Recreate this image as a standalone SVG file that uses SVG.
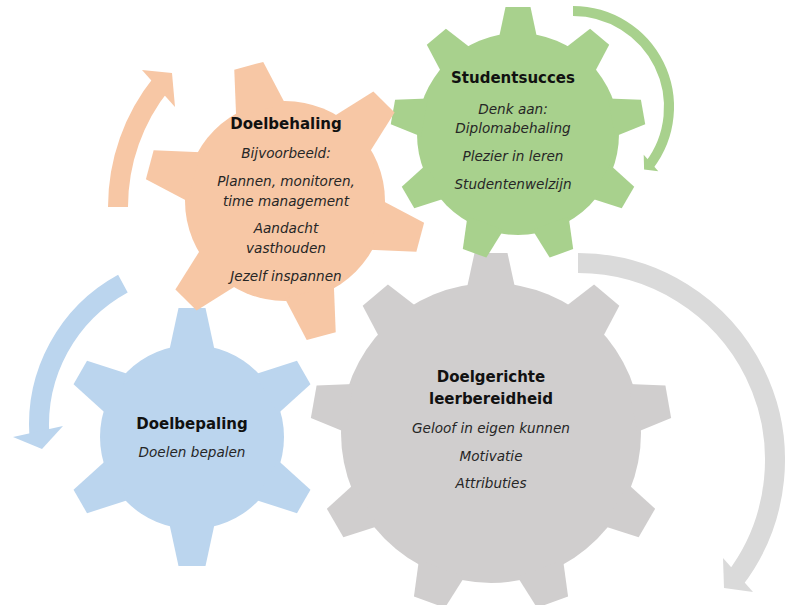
<svg xmlns="http://www.w3.org/2000/svg" xmlns:xlink="http://www.w3.org/1999/xlink" width="789" height="605" viewBox="0 0 789 605">
  <style>
    .orange { fill: #F7C7A5; }
    .green { fill: #A8D18D; }
    .blue { fill: #BBD5EE; }
    .gray { fill: #D0CECE; }
    .arc { fill: none; stroke-linecap: butt; }
    .t-head { font-family: "DejaVu Sans", "Noto Sans", sans-serif; font-weight: 700; font-size: 15px; fill: #111111; text-anchor: middle; }
    .t-item { font-family: "DejaVu Sans", "Noto Sans", sans-serif; font-style: italic; font-size: 13.6px; fill: #262626; text-anchor: middle; }
  </style>
  <defs>
    <polygon id="tooth-gray" points="-24.3,-144 -16.5,-180 16.5,-180 24.3,-144"/>
    <polygon id="tooth-green" points="-19.3,-95 -12.5,-127 12.5,-127 19.3,-95"/>
    <polygon id="tooth-blue" points="-22.8,-86 -13.5,-129 13.5,-129 22.8,-86"/>
    <polygon id="tooth-orange" points="-25.4,-94 -15,-140 15,-140 25.4,-94"/>
  </defs>

  <g id="connectors">
    <g id="arrow-orange" class="orange">
      <path class="arc" stroke="#F7C7A5" stroke-width="20" d="M 118,207 A 197 197 0 0 1 161.9,83.0"/>
      <polygon points="142,70 172,73 175,107"/>
    </g>
    <g id="arrow-blue" class="blue">
      <path class="arc" stroke="#BBD5EE" stroke-width="20" d="M 122.9,283.6 A 161 161 0 0 0 39.4,436.2"/>
      <polygon points="13,437 63,426 42,449"/>
    </g>
    <g id="arrow-green" class="green">
      <path class="arc" stroke="#A8D18D" stroke-width="10" d="M 573,11 A 96 96 0 0 1 649.2,165.4"/>
      <polygon points="643.7,154.8 658.3,171.3 644.1,169.4"/>
    </g>
    <g id="arrow-gray">
      <path class="arc" stroke="#DADADA" stroke-width="20" d="M 578,263 A 197 197 0 0 1 734.3,579.9"/>
      <polygon fill="#DADADA" points="723,558 753,592 724,588"/>
    </g>
  </g>

  <g id="gear-doelgerichte-leerbereidheid" class="gray">
    <circle cx="491" cy="433" r="150"/>
    <g transform="translate(491,433)">
      <use xlink:href="#tooth-gray" href="#tooth-gray" transform="rotate(0)"/>
      <use xlink:href="#tooth-gray" href="#tooth-gray" transform="rotate(40)"/>
      <use xlink:href="#tooth-gray" href="#tooth-gray" transform="rotate(80)"/>
      <use xlink:href="#tooth-gray" href="#tooth-gray" transform="rotate(120)"/>
      <use xlink:href="#tooth-gray" href="#tooth-gray" transform="rotate(160)"/>
      <use xlink:href="#tooth-gray" href="#tooth-gray" transform="rotate(200)"/>
      <use xlink:href="#tooth-gray" href="#tooth-gray" transform="rotate(240)"/>
      <use xlink:href="#tooth-gray" href="#tooth-gray" transform="rotate(280)"/>
      <use xlink:href="#tooth-gray" href="#tooth-gray" transform="rotate(320)"/>
    </g>
    <text class="t-head" x="491" y="382">Doelgerichte</text>
    <text class="t-head" x="491" y="404">leerbereidheid</text>
    <text class="t-item" x="491" y="433">Geloof in eigen kunnen</text>
    <text class="t-item" x="491" y="461">Motivatie</text>
    <text class="t-item" x="491" y="488">Attributies</text>
  </g>

  <g id="gear-doelbepaling" class="blue">
    <circle cx="192" cy="437" r="92"/>
    <g transform="translate(192,437)">
      <use xlink:href="#tooth-blue" href="#tooth-blue" transform="rotate(0)"/>
      <use xlink:href="#tooth-blue" href="#tooth-blue" transform="rotate(60)"/>
      <use xlink:href="#tooth-blue" href="#tooth-blue" transform="rotate(120)"/>
      <use xlink:href="#tooth-blue" href="#tooth-blue" transform="rotate(180)"/>
      <use xlink:href="#tooth-blue" href="#tooth-blue" transform="rotate(240)"/>
      <use xlink:href="#tooth-blue" href="#tooth-blue" transform="rotate(300)"/>
    </g>
    <text class="t-head" x="192" y="429">Doelbepaling</text>
    <text class="t-item" x="192" y="457">Doelen bepalen</text>
  </g>

  <g id="gear-studentsucces" class="green">
    <circle cx="518" cy="134" r="101"/>
    <g transform="translate(518,134)">
      <use xlink:href="#tooth-green" href="#tooth-green" transform="rotate(0)"/>
      <use xlink:href="#tooth-green" href="#tooth-green" transform="rotate(40)"/>
      <use xlink:href="#tooth-green" href="#tooth-green" transform="rotate(80)"/>
      <use xlink:href="#tooth-green" href="#tooth-green" transform="rotate(120)"/>
      <use xlink:href="#tooth-green" href="#tooth-green" transform="rotate(160)"/>
      <use xlink:href="#tooth-green" href="#tooth-green" transform="rotate(200)"/>
      <use xlink:href="#tooth-green" href="#tooth-green" transform="rotate(240)"/>
      <use xlink:href="#tooth-green" href="#tooth-green" transform="rotate(280)"/>
      <use xlink:href="#tooth-green" href="#tooth-green" transform="rotate(320)"/>
    </g>
    <text class="t-head" x="513" y="83">Studentsucces</text>
    <text class="t-item" x="513" y="114">Denk aan:</text>
    <text class="t-item" x="513" y="133">Diplomabehaling</text>
    <text class="t-item" x="513" y="161">Plezier in leren</text>
    <text class="t-item" x="513" y="189">Studentenwelzijn</text>
  </g>

  <g id="gear-doelbehaling" class="orange">
    <circle cx="285" cy="201" r="100"/>
    <g transform="translate(285,201)">
      <use xlink:href="#tooth-orange" href="#tooth-orange" transform="rotate(-15)"/>
      <use xlink:href="#tooth-orange" href="#tooth-orange" transform="rotate(45)"/>
      <use xlink:href="#tooth-orange" href="#tooth-orange" transform="rotate(105)"/>
      <use xlink:href="#tooth-orange" href="#tooth-orange" transform="rotate(165)"/>
      <use xlink:href="#tooth-orange" href="#tooth-orange" transform="rotate(225)"/>
      <use xlink:href="#tooth-orange" href="#tooth-orange" transform="rotate(285)"/>
    </g>
    <text class="t-head" x="286" y="129">Doelbehaling</text>
    <text class="t-item" x="286" y="158">Bijvoorbeeld:</text>
    <text class="t-item" x="286" y="186">Plannen, monitoren,</text>
    <text class="t-item" x="286" y="206">time management</text>
    <text class="t-item" x="286" y="233">Aandacht</text>
    <text class="t-item" x="286" y="253">vasthouden</text>
    <text class="t-item" x="286" y="281">Jezelf inspannen</text>
  </g>
</svg>
